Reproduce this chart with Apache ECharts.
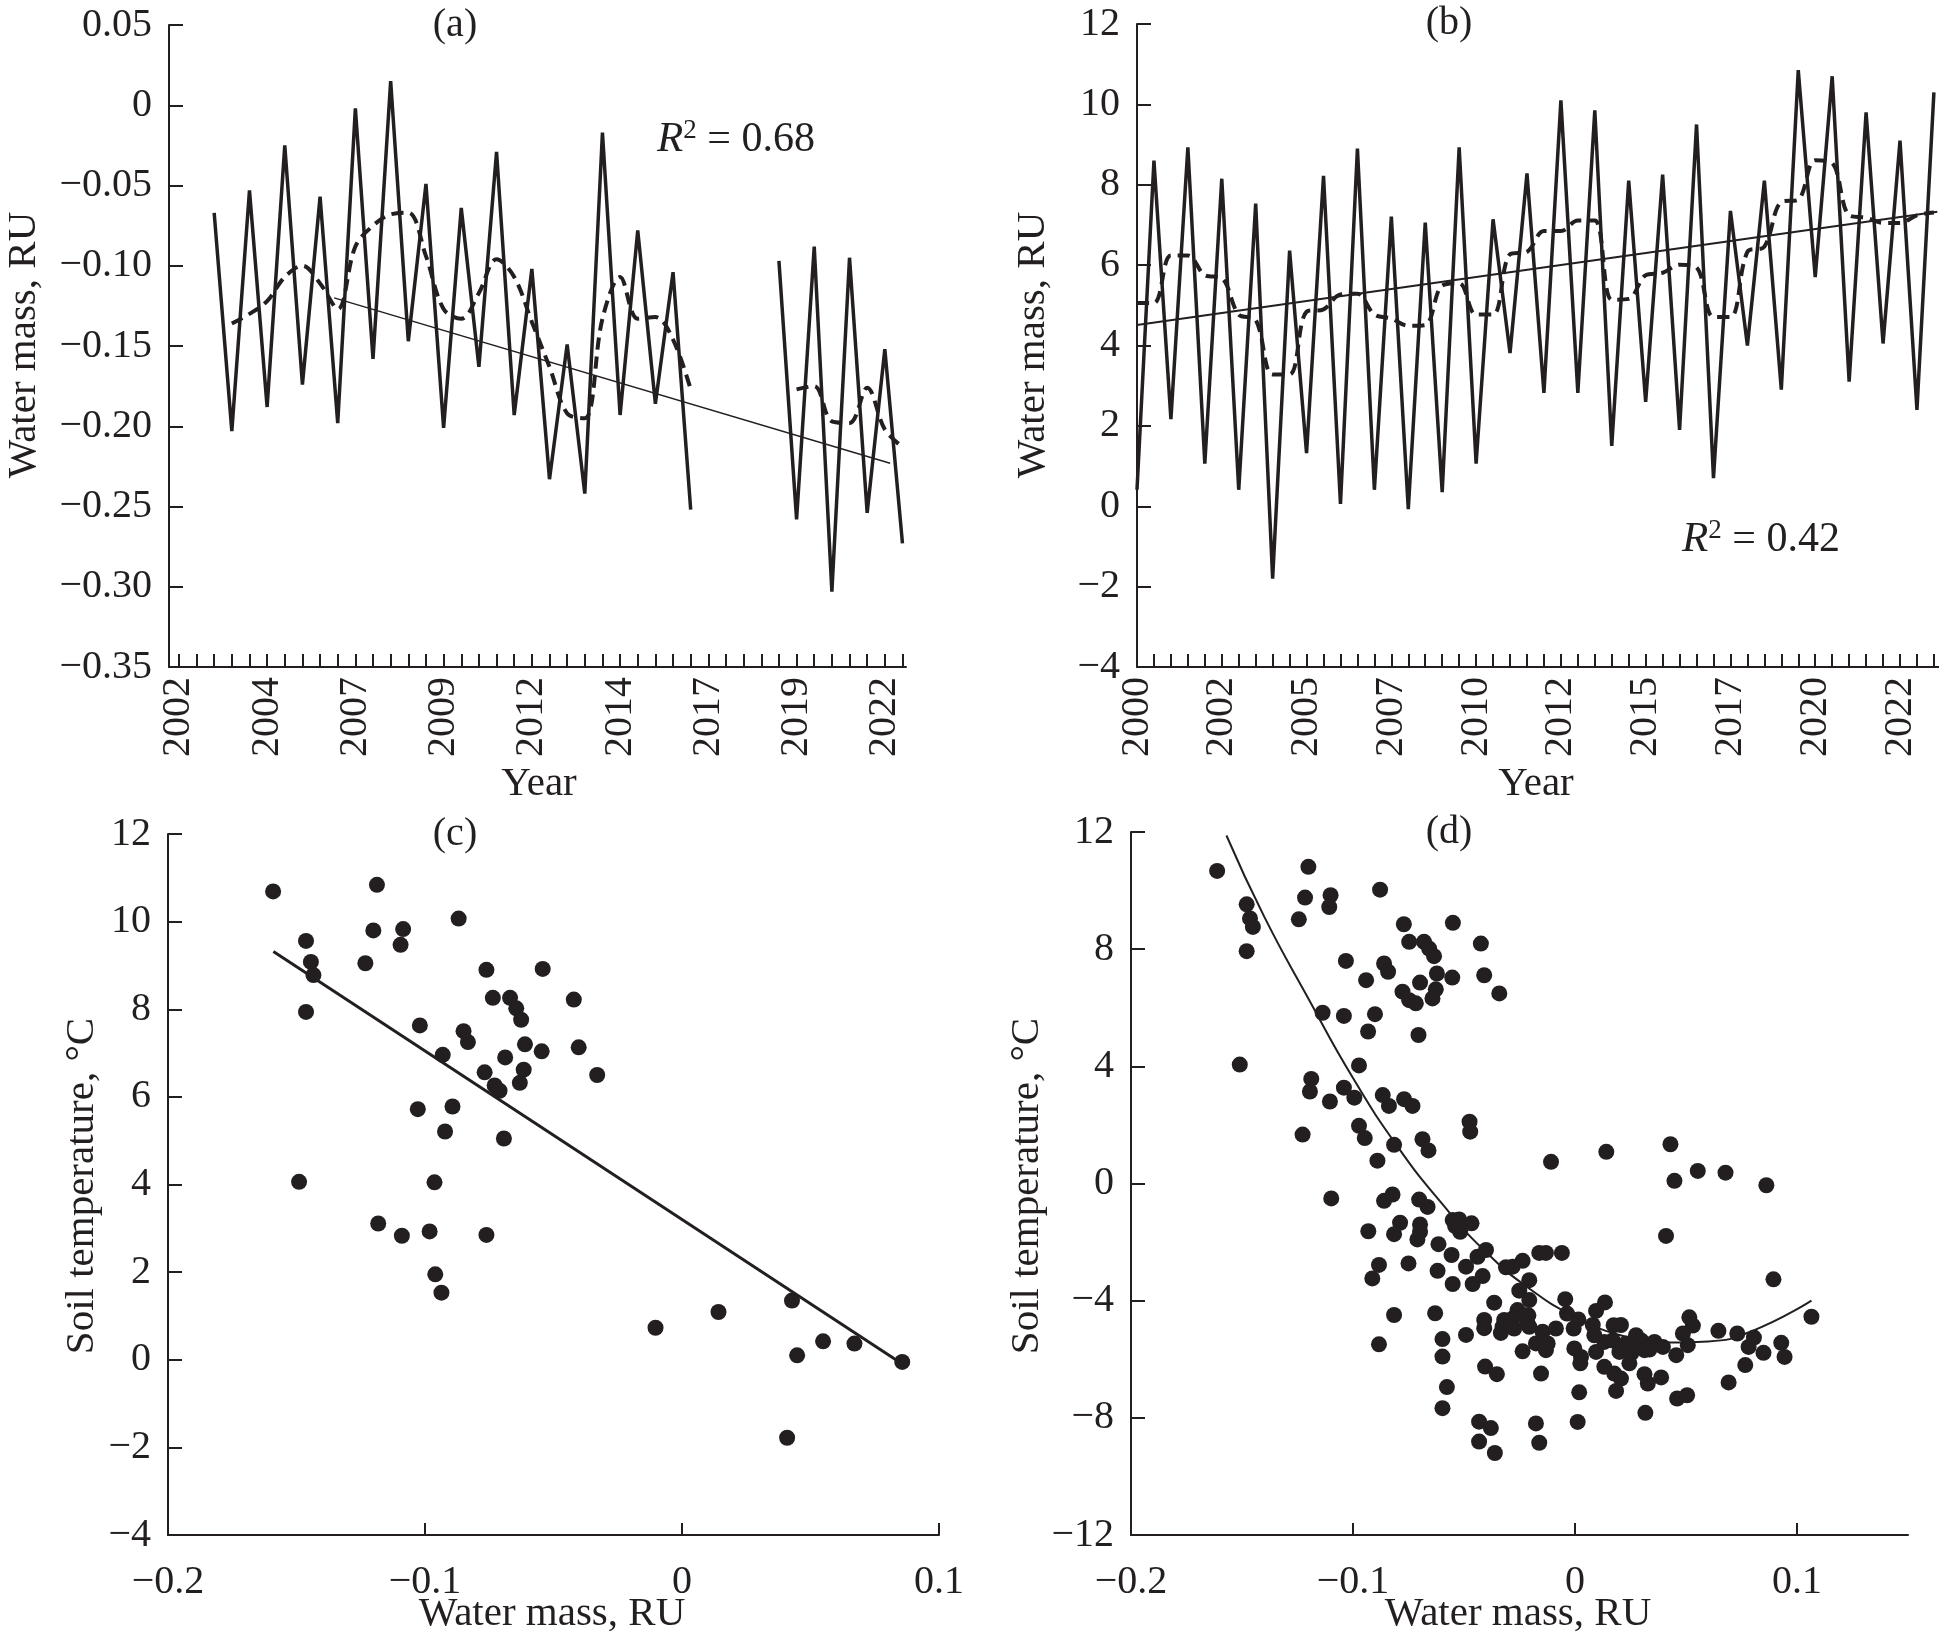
<!DOCTYPE html>
<html><head><meta charset="utf-8">
<script src="https://cdn.jsdelivr.net/npm/echarts@6.0.0/dist/echarts.min.js"></script>
<style>html,body{margin:0;padding:0;background:#fff}#c{width:1939px;height:1640px}</style>
</head><body><div id="c"></div>
<script>
// ---------- Panel (a) ----------
const aTime1 = [2003,2003.5,2004,2004.5,2005,2005.5,2006,2006.5,2007,2007.5,2008,2008.5,2009,2009.5,2010,2010.5,2011,2011.5,2012,2012.5,2013,2013.5,2014,2014.5,2015,2015.5,2016,2016.5];
const aValue1 = [-0.067,-0.203,-0.053,-0.188,-0.025,-0.174,-0.057,-0.198,-0.002,-0.158,0.015,-0.147,-0.049,-0.201,-0.064,-0.163,-0.029,-0.193,-0.102,-0.233,-0.149,-0.242,-0.017,-0.193,-0.078,-0.186,-0.104,-0.252];
const aTime2 = [2019,2019.5,2020,2020.5,2021,2021.5,2022,2022.5];
const aValue2 = [-0.097,-0.258,-0.088,-0.303,-0.095,-0.254,-0.152,-0.273];
const aAvgTime1 = [2003.5,2004,2004.5,2005,2005.5,2006,2006.5,2007,2007.5,2008,2008.5,2009,2009.5,2010,2010.5,2011,2011.5,2012,2012.5,2013,2013.5,2014,2014.5,2015,2015.5,2016,2016.5];
const aAvg1 = [-0.136,-0.130,-0.122,-0.107,-0.100,-0.111,-0.127,-0.088,-0.075,-0.068,-0.067,-0.094,-0.127,-0.133,-0.117,-0.096,-0.107,-0.135,-0.163,-0.192,-0.195,-0.133,-0.107,-0.133,-0.132,-0.146,-0.177];
const aAvgTime2 = [2019.5,2020,2020.5,2021,2021.5,2022,2022.5];
const aAvg2 = [-0.177,-0.175,-0.197,-0.198,-0.176,-0.202,-0.213];
const aTrendX = [2006.4, 2022.15];
const aTrendY = [-0.120, -0.223];
const aYearLabels = [2002,2004.5,2007,2009.5,2012,2014.5,2017,2019.5,2022];
const aR2 = '0.68';

// ---------- Panel (b) ----------
const bTime = [2000,2000.5,2001,2001.5,2002,2002.5,2003,2003.5,2004,2004.5,2005,2005.5,2006,2006.5,2007,2007.5,2008,2008.5,2009,2009.5,2010,2010.5,2011,2011.5,2012,2012.5,2013,2013.5,2014,2014.5,2015,2015.5,2016,2016.5,2017,2017.5,2018,2018.5,2019,2019.5,2020,2020.5,2021,2021.5,2022,2022.5,2023,2023.5];
const bValue = [0.41,8.60,2.17,8.93,1.06,8.15,0.41,7.53,-1.80,6.36,1.32,8.22,0.06,8.90,0.41,7.21,-0.07,7.06,0.35,8.93,1.06,7.14,3.81,8.28,2.82,10.10,2.82,9.85,1.50,8.10,2.60,8.25,1.90,9.50,0.70,7.35,4.00,8.10,2.90,10.85,5.70,10.70,3.10,9.80,4.05,9.10,2.40,10.30];
const bAvg = [5.06,5.06,6.24,6.24,5.75,5.68,4.77,4.64,3.28,3.28,4.84,4.90,5.27,5.29,4.77,4.67,4.49,4.51,5.49,5.55,4.77,4.77,6.27,6.33,6.85,6.85,7.11,7.11,5.14,5.16,5.75,5.81,6.01,5.94,4.71,4.71,6.33,6.46,7.57,7.63,8.61,8.54,7.24,7.18,7.05,7.05,7.24,7.31];
const bTrendX = [2000, 2023.6];
const bTrendY = [4.51, 7.33];
const bYearLabels = [2000,2002.5,2005,2007.5,2010,2012.5,2015,2017.5,2020,2022.5];
const bR2 = '0.42';

// ---------- Panel (c) ----------
const cX = [-0.1591,-0.1187,-0.1463,-0.1444,-0.1434,-0.1463,-0.1201,-0.1085,-0.1095,-0.1232,-0.0869,-0.0761,-0.0542,-0.0736,-0.0669,-0.0645,-0.0626,-0.0421,-0.1020,-0.0850,-0.0833,-0.0611,-0.0546,-0.0402,-0.0931,-0.0688,-0.0768,-0.0616,-0.0631,-0.0729,-0.0710,-0.0330,-0.1028,-0.0893,-0.0922,-0.0693,-0.1490,-0.0963,-0.1182,-0.1090,-0.0982,-0.0761,-0.0960,-0.0936,-0.0103,0.0142,0.0428,0.0448,0.0549,0.0671,0.0857,0.0409];
const cY = [10.69,10.84,9.56,9.08,8.78,7.94,9.80,9.83,9.47,9.05,10.07,8.90,8.92,8.26,8.26,8.02,7.76,8.22,7.63,7.50,7.25,7.20,7.04,7.13,6.96,6.90,6.56,6.62,6.32,6.26,6.14,6.50,5.72,5.78,5.21,5.05,4.06,4.05,3.11,2.83,2.93,2.85,1.95,1.53,0.73,1.09,1.35,0.10,0.42,0.37,-0.05,-1.78];
const cTrendX = [-0.159, 0.085];
const cTrendY = [9.32, -0.07];

// ---------- Panel (d) ----------
const dX = [-0.1612,-0.1201,-0.1479,-0.1464,-0.1451,-0.1479,-0.1216,-0.1101,-0.1107,-0.1244,-0.0878,-0.0771,-0.0550,-0.0747,-0.0680,-0.0657,-0.0635,-0.0424,-0.1032,-0.0860,-0.0842,-0.0622,-0.0553,-0.0409,-0.0941,-0.0698,-0.0777,-0.0627,-0.0642,-0.0747,-0.0717,-0.0341,-0.1137,-0.1041,-0.0901,-0.0932,-0.0705,-0.1510,-0.0973,-0.1188,-0.1194,-0.1104,-0.1041,-0.0994,-0.0866,-0.0838,-0.0770,-0.0732,-0.0475,-0.0472,-0.1227,-0.0973,-0.0947,-0.0815,-0.0687,-0.0660,-0.0890,
-0.1098,-0.0860,-0.0822,-0.0702,-0.0664,-0.0551,-0.0522,-0.0517,-0.0540,-0.0466,-0.0931,-0.0788,-0.0815,-0.0698,-0.0698,-0.0710,-0.0615,-0.0556,-0.0883,-0.0913,-0.0750,-0.0619,-0.0491,-0.0439,-0.0401,-0.0416,-0.0551,-0.0461,-0.0364,-0.0409,-0.0409,-0.0815,-0.0630,-0.0883,-0.0597,-0.0491,-0.0597,-0.0405,-0.0352,-0.0577,-0.0597,-0.0432,-0.0379,-0.0432,-0.0361,
-0.0108,0.0141,0.0430,0.0448,0.0553,0.0678,0.0862,0.0410,0.0894,0.1065,-0.0311,-0.0281,-0.0236,-0.0161,-0.0131,-0.0059,-0.0206,-0.0251,-0.0206,-0.0259,-0.0229,-0.0210,-0.0214,-0.0281,-0.0319,-0.0326,-0.0274,-0.0206,-0.0334,-0.0146,-0.0086,-0.0176,-0.0123,-0.0131,-0.0236,-0.0153,-0.0044,-0.0036,0.0015,-0.0006,0.0095,0.0135,0.0080,0.0087,-0.0003,0.0027,0.0024,0.0095,0.0132,0.0174,0.0207,0.0132,0.0170,0.0200,0.0177,0.0207,0.0185,0.0019,0.0012,-0.0176,-0.0161,0.0275,0.0283,0.0253,0.0245,0.0298,0.0313,0.0230,0.0358,0.0396,0.0335,0.0313,0.0328,0.0388,0.0317,0.0456,0.0486,0.0515,0.0531,0.0508,0.0460,0.0505,0.0646,0.0731,0.0806,0.0782,0.0849,0.0767,0.0692,0.0929,0.0944];
const dY = [10.67,10.81,9.53,9.05,8.76,7.93,9.76,9.84,9.44,9.02,10.03,8.85,8.90,8.25,8.25,8.02,7.76,8.19,7.60,7.51,7.23,7.17,7.03,7.11,6.94,6.86,6.55,6.63,6.32,6.26,6.15,6.49,5.83,5.72,5.78,5.19,5.07,4.06,4.03,3.57,3.14,2.80,3.27,2.93,3.02,2.65,2.88,2.65,2.11,1.77,1.67,1.97,1.55,1.32,1.51,1.13,0.78,
-0.51,-0.59,-0.375,-0.55,-0.80,-1.25,-1.23,-1.65,-1.45,-1.36,-1.63,-1.34,-1.73,-1.40,-1.65,-1.91,-2.07,-2.44,-2.78,-3.24,-2.73,-2.98,-2.84,-2.50,-2.27,-3.16,-3.43,-3.43,-4.07,-4.66,-4.94,-4.49,-4.43,-5.49,-5.31,-5.17,-5.91,-6.25,-6.51,-6.95,-7.67,-8.13,-8.35,-8.81,-9.20,
0.74,1.08,1.34,0.09,0.43,0.37,-0.06,-1.79,-3.27,-4.55,-2.86,-2.84,-2.64,-2.37,-2.37,-2.37,-3.30,-3.66,-3.98,-4.32,-4.50,-4.50,-4.77,-4.61,-4.66,-4.89,-4.95,-4.89,-5.10,-5.06,-4.95,-5.46,-5.46,-5.69,-5.73,-6.49,-3.95,-4.44,-4.64,-4.95,-4.35,-4.06,-4.83,-5.18,-5.63,-5.92,-6.14,-5.75,-6.26,-4.84,-4.83,-5.41,-5.36,-5.75,-6.49,-6.66,-7.08,-7.13,-8.14,-8.19,-8.85,-5.18,-5.52,-5.80,-6.14,-5.36,-5.69,-5.46,-5.41,-5.58,-5.67,-6.51,-6.83,-6.62,-7.83,-5.86,-5.12,-4.57,-4.85,-5.52,-7.34,-7.23,-5.03,-5.12,-5.26,-5.58,-5.78,-6.20,-6.79,-5.44,-5.92];
const dCurveX = [-0.157,-0.14,-0.12,-0.10,-0.08,-0.06,-0.04,-0.02,0,0.02,0.04,0.06,0.08,0.1065];
const dCurveY = [11.88,9.11,6.3,3.6,1.27,-0.68,-2.35,-3.62,-4.55,-5.17,-5.43,-5.39,-5.03,-4.0];
const cdXLabels = [-0.2,-0.1,0,0.1];

// ---------- styling ----------
const INK = '#231f20';
const FONT = 'Liberation Serif';
const TICK_FS = 40;
const NAME_FS = 41;

function zip(xs, ys){ return xs.map((x,i)=>[x, ys[i]]); }
function halfYearTicks(from, to){ const t=[]; for(let v=from; v<=to+1e-9; v+=0.5) t.push(v); return t; }
const minus = v => (v < 0 ? '\u2212' : '');
const fmt2 = v => Math.abs(v) < 1e-9 ? '0' : minus(v) + Math.abs(v).toFixed(2);
const fmtInt = v => Math.abs(v) < 1e-9 ? '0' : minus(v) + Math.abs(Math.round(v));
const fmt1 = v => Math.abs(v) < 1e-9 ? '0' : minus(v) + Math.abs(v).toFixed(1);

const lineAxis = {show:true, onZero:false, lineStyle:{color:INK, width:2}};
function yAxisCfg(gi, min, max, interval, fmt){
  return {type:'value', gridIndex:gi, min, max, interval,
    axisLine:lineAxis,
    axisTick:{show:true, inside:true, length:14, lineStyle:{color:INK, width:2}},
    axisLabel:{color:INK, fontFamily:FONT, fontSize:TICK_FS, margin:17, formatter:fmt},
    splitLine:{show:false}};
}
function yearAxisCfg(gi, min, max, ticks, labels){
  return {type:'value', gridIndex:gi, min, max,
    axisLine:lineAxis,
    axisTick:{show:true, inside:true, length:13, customValues:ticks, lineStyle:{color:INK, width:2}},
    axisLabel:{customValues:labels, rotate:90, margin:10, color:INK, fontFamily:FONT, fontSize:TICK_FS,
      formatter: v => String(Math.floor(v + 1e-6))},
    splitLine:{show:false}};
}
function massAxisCfg(gi, min, max){
  return {type:'value', gridIndex:gi, min, max,
    axisLine:lineAxis,
    axisTick:{show:true, inside:true, length:12, customValues:cdXLabels, lineStyle:{color:INK, width:2}},
    axisLabel:{customValues:cdXLabels, margin:27, color:INK, fontFamily:FONT, fontSize:TICK_FS, formatter:fmt1},
    splitLine:{show:false}};
}
function solid(xi, data, w){ return {type:'line', xAxisIndex:xi, yAxisIndex:xi, data, symbol:'none', silent:true, lineStyle:{color:INK, width:w}}; }
function dashed(xi, data){ return {type:'line', xAxisIndex:xi, yAxisIndex:xi, data, symbol:'none', smooth:0.35, silent:true, lineStyle:{color:INK, width:4, type:[12,7]}}; }
function dots(xi, data){ return {type:'scatter', xAxisIndex:xi, yAxisIndex:xi, data, symbol:'circle', symbolSize:16, silent:true, itemStyle:{color:INK, opacity:1}}; }

function label(x, y, text, size, rot){
  return {type:'text', x, y, rotation: rot || 0, silent:true,
    style:{text, fontFamily:FONT, fontSize:size, fill:INK, align:'center', verticalAlign:'middle'}};
}
function r2(x, y, val){
  return {type:'text', x, y, silent:true,
    style:{text:'{i|R}{s|2}{n| = ' + val + '}', align:'center', verticalAlign:'middle',
      rich:{
        i:{fontFamily:FONT, fontSize:43, fontStyle:'italic', fill:INK, lineHeight:46, verticalAlign:'middle'},
        s:{fontFamily:FONT, fontSize:27, fill:INK, lineHeight:27, verticalAlign:'top'},
        n:{fontFamily:FONT, fontSize:42, fill:INK, lineHeight:46, verticalAlign:'middle'}
      }}};
}

const chart = echarts.init(document.getElementById('c'), null, {renderer:'canvas'});
chart.setOption({
  animation:false,
  backgroundColor:'#fff',
  grid:[
    {left:169, top:25, width:737, height:642},
    {left:1137, top:24, width:802, height:643},
    {left:168, top:834, width:771, height:701},
    {left:1131, top:832, width:777, height:703}
  ],
  xAxis:[
    yearAxisCfg(0, 2001.72, 2022.6, halfYearTicks(2002, 2022.5), aYearLabels),
    yearAxisCfg(1, 2000, 2023.65, halfYearTicks(2000, 2023.5), bYearLabels),
    massAxisCfg(2, -0.2, 0.1),
    massAxisCfg(3, -0.2, 0.15)
  ],
  yAxis:[
    yAxisCfg(0, -0.35, 0.05, 0.05, fmt2),
    yAxisCfg(1, -4, 12, 2, fmtInt),
    yAxisCfg(2, -4, 12, 2, fmtInt),
    yAxisCfg(3, -12, 12, 4, fmtInt)
  ],
  series:[
    solid(0, zip(aTime1, aValue1), 3.5),
    solid(0, zip(aTime2, aValue2), 3.5),
    dashed(0, zip(aAvgTime1, aAvg1)),
    dashed(0, zip(aAvgTime2, aAvg2)),
    solid(0, zip(aTrendX, aTrendY), 1.5),
    solid(1, zip(bTime, bValue), 3.5),
    dashed(1, zip(bTime, bAvg)),
    solid(1, zip(bTrendX, bTrendY), 2),
    dots(2, zip(cX, cY)),
    solid(2, zip(cTrendX, cTrendY), 3),
    dots(3, zip(dX, dY)),
    Object.assign(solid(3, zip(dCurveX, dCurveY), 2), {smooth:0.5})
  ],
  graphic:[
    label(455, 25, '(a)', TICK_FS),
    label(1449, 23, '(b)', TICK_FS),
    label(455, 834, '(c)', TICK_FS),
    label(1449, 832, '(d)', TICK_FS),
    label(24, 345, 'Water mass, RU', NAME_FS, Math.PI/2),
    label(1033, 345, 'Water mass, RU', NAME_FS, Math.PI/2),
    label(82, 1186, 'Soil temperature, \u00B0C', NAME_FS, Math.PI/2),
    label(1027, 1186, 'Soil temperature, \u00B0C', NAME_FS, Math.PI/2),
    label(539, 784, 'Year', NAME_FS),
    label(1536, 784, 'Year', NAME_FS),
    label(552, 1614, 'Water mass, RU', NAME_FS),
    label(1518, 1614, 'Water mass, RU', NAME_FS),
    r2(736, 140, aR2),
    r2(1761, 540, bR2)
  ]
});
</script></body></html>
